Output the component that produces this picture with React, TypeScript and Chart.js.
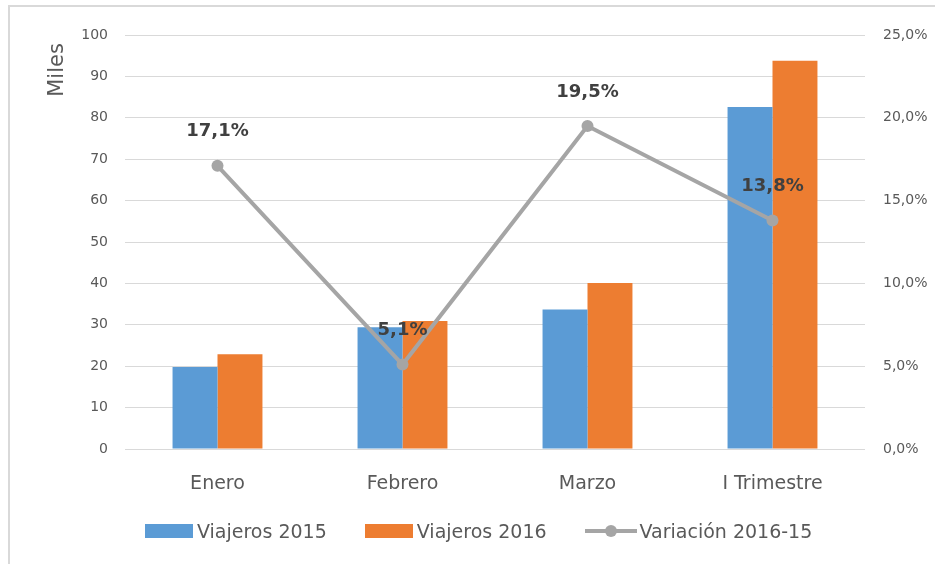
import React, { useEffect, useRef } from "react";
import { Chart, registerables } from "chart.js";

Chart.register(...registerables);

const categories = ["Enero", "Febrero", "Marzo", "I Trimestre"];
const viajeros2015 = [19.8, 29.4, 33.7, 82.6];
const viajeros2016 = [22.9, 30.9, 40.1, 93.8];
const variacion = [17.1, 5.1, 19.5, 13.8];
const leftTicks = { min: 0, max: 100, step: 10 };
const rightTicks = { min: 0, max: 25, step: 5 };
const leftTitle = "Miles";

const BLUE = "#5b9bd5";
const ORANGE = "#ed7d31";
const GRAY = "#a5a5a5";
const FONT = "'DejaVu Sans', sans-serif";

const fmtPct = (v: number) => v.toFixed(1).replace(".", ",") + "%";

const labelPlugin = {
  id: "lineLabels",
  afterDatasetsDraw(chart: any) {
    const meta = chart.getDatasetMeta(2);
    const ctx = chart.ctx;
    ctx.save();
    ctx.font = "bold 18px " + FONT;
    ctx.fillStyle = "#404040";
    ctx.textAlign = "center";
    ctx.textBaseline = "middle";
    meta.data.forEach((pt: any, i: number) => {
      ctx.fillText(fmtPct(variacion[i]), pt.x, pt.y - 34);
    });
    ctx.restore();
  },
  afterDraw(chart: any) {
    const ctx = chart.ctx;
    const area = chart.chartArea;
    ctx.save();
    ctx.translate(area.left - 67, area.top + 35);
    ctx.rotate(-Math.PI / 2);
    ctx.font = "21px " + FONT;
    ctx.fillStyle = "#595959";
    ctx.textAlign = "center";
    ctx.textBaseline = "middle";
    ctx.fillText(leftTitle, 0, 0);
    ctx.restore();
  },
};

export default function App() {
  const ref = useRef<HTMLCanvasElement>(null);
  useEffect(() => {
    const chart = new Chart(ref.current!, {
      type: "bar",
      data: {
        labels: categories,
        datasets: [
          {
            label: "Viajeros 2015",
            data: viajeros2015,
            backgroundColor: BLUE,
            yAxisID: "y",
            order: 2,
            barPercentage: 1,
            categoryPercentage: 0.486,
          },
          {
            label: "Viajeros 2016",
            data: viajeros2016,
            backgroundColor: ORANGE,
            yAxisID: "y",
            order: 2,
            barPercentage: 1,
            categoryPercentage: 0.486,
          },
          {
            type: "line",
            label: "Variación 2016-15",
            data: variacion,
            borderColor: GRAY,
            backgroundColor: GRAY,
            borderWidth: 4,
            pointRadius: 6,
            pointBackgroundColor: GRAY,
            pointBorderWidth: 0,
            yAxisID: "y1",
            order: 0,
          } as any,
        ],
      },
      options: {
        animation: false,
        responsive: false,
        layout: { padding: { left: 45, right: 0, top: 35, bottom: 60 } },
        plugins: { legend: { display: false }, tooltip: { enabled: false } },
        scales: {
          x: {
            grid: { display: false },
            border: { display: false },
            ticks: { color: "#595959", font: { family: FONT, size: 19 }, padding: 16, maxRotation: 0 },
            afterFit: (s: any) => { s.height = 55; },
          },
          y: {
            position: "left",
            min: leftTicks.min,
            max: leftTicks.max,
            ticks: { stepSize: leftTicks.step, color: "#595959", font: { family: FONT, size: 14 }, padding: 17 },
            grid: { color: "#d9d9d9", lineWidth: 1, drawTicks: false },
            border: { display: false },
            afterFit: (s: any) => { s.width = 80; },
          },
          y1: {
            position: "right",
            min: rightTicks.min,
            max: rightTicks.max,
            ticks: {
              stepSize: rightTicks.step,
              color: "#595959",
              font: { family: FONT, size: 14 },
              padding: 18,
              callback: (v: any) => fmtPct(Number(v)),
            },
            grid: { display: false, drawTicks: false },
            border: { display: false },
            afterFit: (s: any) => { s.width = 70; },
          },
        },
      },
      plugins: [labelPlugin],
    });
    return () => chart.destroy();
  }, []);

  const legendText: React.CSSProperties = { color: "#595959", fontFamily: FONT, fontSize: 19, marginLeft: 4, whiteSpace: "nowrap" };
  return (
    <div style={{ position: "fixed", left: 0, top: 0, width: 935, height: 564, overflow: "hidden", background: "#fff" }}>
      <div style={{ position: "absolute", left: 8, top: 5, width: 2000, height: 2000, borderLeft: "2px solid #d9d9d9", borderTop: "2px solid #d9d9d9", boxSizing: "border-box" }} />
      <canvas ref={ref} width={935} height={564} style={{ position: "absolute", left: 0, top: 0, width: 935, height: 564 }} />
      <div style={{ position: "absolute", left: 145, top: 519, height: 24, display: "flex", alignItems: "center", gap: 38 }}>
        <div style={{ display: "flex", alignItems: "center" }}>
          <div style={{ width: 48, height: 14, background: BLUE }} />
          <span style={legendText}>Viajeros 2015</span>
        </div>
        <div style={{ display: "flex", alignItems: "center" }}>
          <div style={{ width: 48, height: 14, background: ORANGE }} />
          <span style={legendText}>Viajeros 2016</span>
        </div>
        <div style={{ display: "flex", alignItems: "center" }}>
          <div style={{ position: "relative", width: 52, height: 14 }}>
            <div style={{ position: "absolute", left: 0, right: 0, top: 5, height: 4, background: GRAY }} />
            <div style={{ position: "absolute", left: 20, top: 1, width: 12, height: 12, borderRadius: 6, background: GRAY }} />
          </div>
          <span style={{ ...legendText, marginLeft: 3 }}>Variación 2016-15</span>
        </div>
      </div>
    </div>
  );
}
